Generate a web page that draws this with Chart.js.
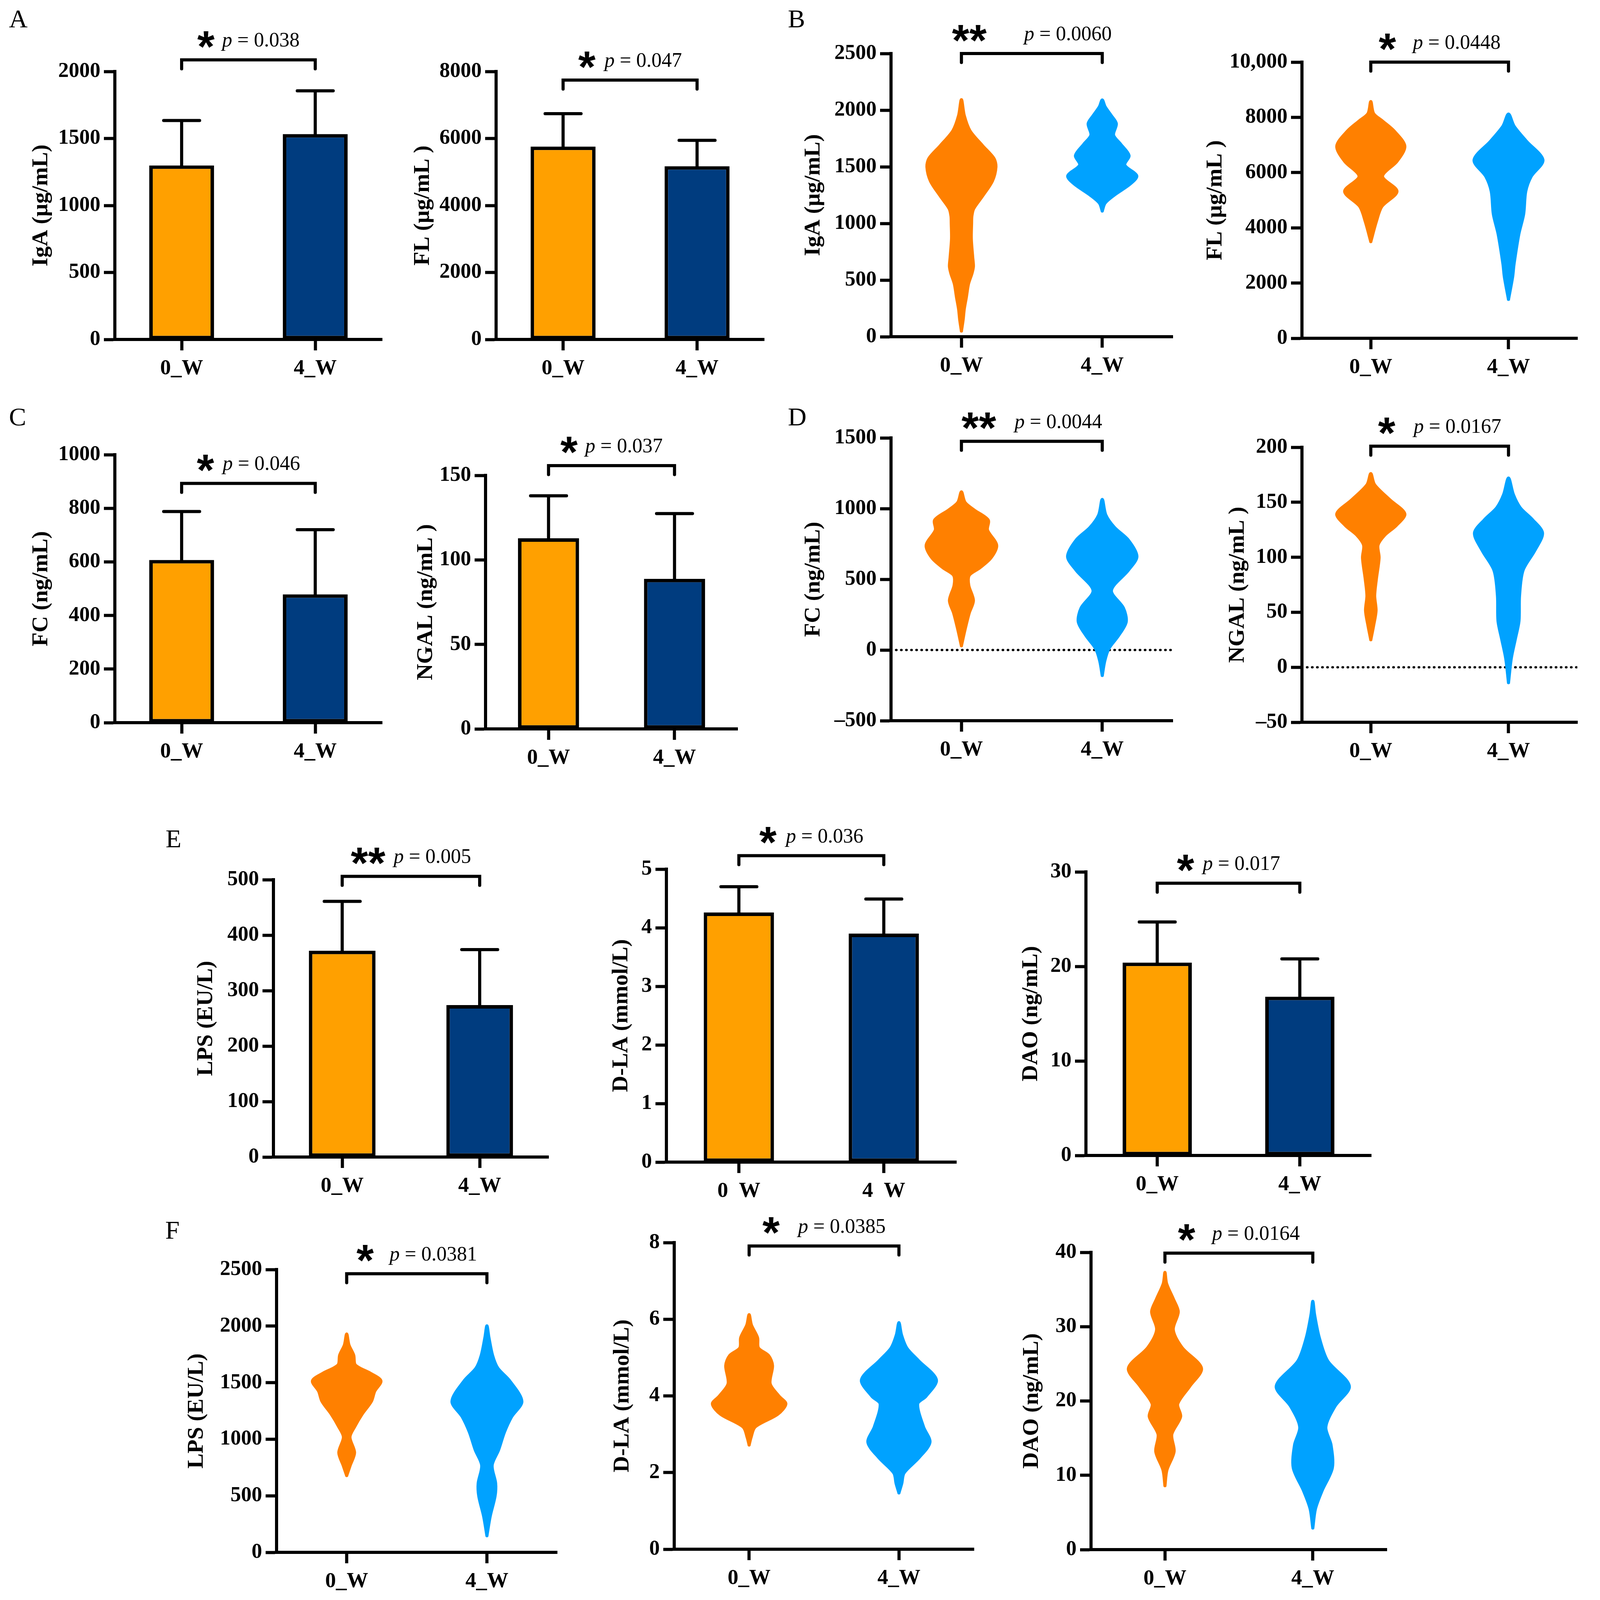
<!DOCTYPE html>
<html>
<head>
<meta charset="utf-8">
<script src="https://cdn.jsdelivr.net/npm/chart.js@4.4.1/dist/chart.umd.min.js"></script>
<style>
  html, body { margin: 0; padding: 0; background: #fff; }
  #page { position: relative; width: 4236px; height: 4268px; background: #fff; overflow: hidden; }
  #page canvas { position: absolute; }
  .tag { position: absolute; font-family: 'Liberation Serif', serif; font-size: 66px; line-height: 1; color: #000; }
</style>
</head>
<body>
<div id="page"></div>
<script>
// ---- data ----
const groups = ['0_W', '4_W'];
const groupsSpaced = ['0  W', '4  W'];

// bar panels: mean and SD (upper error only)
const igaMean = [1299, 1533];
const igaSd = [335, 323];
const flMean = [5757, 5172];
const flSd = [983, 773];
const fcMean = [607, 479];
const fcSd = [181, 241];
const ngalMean = [112.8, 88.8];
const ngalSd = [25.1, 38.6];
const lpsMean = [372, 274];
const lpsSd = [89, 100];
const dlaMean = [4.26, 3.90];
const dlaSd = [0.44, 0.59];
const daoMean = [20.4, 16.8];
const daoSd = [4.3, 4.0];

// violin outlines: levels (y) and half widths (in group spacing units)
const igaV0Y = [50, 150, 244, 350, 466, 560, 621, 700, 865, 1000, 1065, 1131, 1242, 1375, 1500, 1575, 1686, 1819, 1952, 2092];
const igaV0W = [0, 0.012, 0.02, 0.035, 0.05, 0.075, 0.085, 0.08, 0.07, 0.072, 0.074, 0.087, 0.15, 0.22, 0.245, 0.23, 0.15, 0.06, 0.02, 0];
const igaV4Y = [1110, 1180, 1250, 1350, 1420, 1515, 1600, 1700, 1780, 1880, 1950, 2030, 2090];
const igaV4W = [0, 0.02, 0.085, 0.2, 0.245, 0.16, 0.19, 0.13, 0.08, 0.1, 0.065, 0.02, 0];

const flV0Y = [3500, 4227, 4773, 5318, 5864, 6409, 6955, 7500, 7864, 8136, 8573];
const flV0W = [0, 0.04, 0.08, 0.19, 0.085, 0.19, 0.247, 0.17, 0.085, 0.02, 0];
const flV4Y = [1409, 2227, 2682, 3773, 4500, 5318, 5864, 6455, 7136, 7682, 8118];
const flV4W = [0, 0.03, 0.04, 0.075, 0.11, 0.125, 0.165, 0.25, 0.13, 0.04, 0];

const fcV0Y = [30, 155, 261, 350, 457, 528, 581, 652, 741, 848, 919, 990, 1044, 1118];
const fcV0W = [0, 0.028, 0.055, 0.085, 0.052, 0.055, 0.13, 0.21, 0.25, 0.185, 0.19, 0.09, 0.025, 0];
const fcV4Y = [-180, -76, 12, 101, 199, 297, 421, 564, 661, 777, 866, 955, 1065];
const fcV4W = [0, 0.018, 0.048, 0.115, 0.17, 0.15, 0.065, 0.185, 0.246, 0.185, 0.087, 0.025, 0];

const ngalV0Y = [25, 37.7, 51.5, 65, 80, 99.5, 111, 120, 129, 139.5, 152, 166, 176];
const ngalV0W = [0, 0.02, 0.038, 0.028, 0.04, 0.06, 0.052, 0.1, 0.185, 0.247, 0.14, 0.027, 0];
const ngalV4Y = [-14, 8, 26, 42, 65, 88, 106, 122, 134, 145, 157, 172];
const ngalV4W = [0, 0.02, 0.05, 0.076, 0.08, 0.105, 0.19, 0.247, 0.175, 0.085, 0.035, 0];

const lpsV0Y = [679, 769, 882, 1018, 1109, 1222, 1335, 1425, 1516, 1584, 1629, 1663, 1742, 1833, 1930];
const lpsV0W = [0, 0.025, 0.056, 0.023, 0.056, 0.11, 0.176, 0.2, 0.244, 0.167, 0.093, 0.058, 0.05, 0.016, 0];
const lpsV4Y = [147, 317, 498, 611, 769, 905, 1063, 1199, 1335, 1516, 1629, 1742, 1900, 2002];
const lpsV4W = [0, 0.023, 0.058, 0.062, 0.037, 0.083, 0.125, 0.176, 0.249, 0.162, 0.077, 0.04, 0.014, 0];

const dlaV0Y = [2.72, 2.92, 3.19, 3.52, 3.79, 3.99, 4.32, 4.79, 5.05, 5.25, 5.52, 5.85, 6.12];
const dlaV0W = [0, 0.013, 0.04, 0.19, 0.245, 0.2, 0.14, 0.156, 0.13, 0.062, 0.056, 0.015, 0];
const dlaV4Y = [1.47, 1.72, 1.99, 2.39, 2.79, 3.19, 3.79, 3.99, 4.42, 4.92, 5.25, 5.59, 5.91];
const dlaV4W = [0, 0.019, 0.034, 0.134, 0.207, 0.164, 0.125, 0.18, 0.25, 0.13, 0.052, 0.017, 0];

const daoV0Y = [8.6, 10.7, 13.2, 15.5, 17.9, 19.6, 22.0, 24.4, 27.2, 29.6, 32.0, 33.7, 35.8, 37.3];
const daoV0W = [0, 0.013, 0.062, 0.046, 0.106, 0.086, 0.168, 0.247, 0.115, 0.056, 0.09, 0.057, 0.011, 0];
const daoV4Y = [2.9, 5.5, 7.9, 11.0, 14.1, 16.5, 19.3, 22.0, 25.4, 28.5, 31.6, 33.4];
const daoV4W = [0, 0.018, 0.062, 0.132, 0.123, 0.088, 0.15, 0.247, 0.1, 0.044, 0.012, 0];

// axis ticks
const ticksIgaBar = [0, 500, 1000, 1500, 2000];
const ticksFlBar = [0, 2000, 4000, 6000, 8000];
const ticksIgaV = [0, 500, 1000, 1500, 2000, 2500];
const ticksFlV = [0, 2000, 4000, 6000, 8000, 10000];
const labelsFlV = ['0', '2000', '4000', '6000', '8000', '10,000'];
const ticksFcBar = [0, 200, 400, 600, 800, 1000];
const ticksNgalBar = [0, 50, 100, 150];
const ticksFcV = [-500, 0, 500, 1000, 1500];
const labelsFcV = ['\u2013500', '0', '500', '1000', '1500'];
const ticksNgalV = [-50, 0, 50, 100, 150, 200];
const labelsNgalV = ['\u201350', '0', '50', '100', '150', '200'];
const ticksLpsBar = [0, 100, 200, 300, 400, 500];
const ticksDlaBar = [0, 1, 2, 3, 4, 5];
const ticksDaoBar = [0, 10, 20, 30];
const ticksLpsV = [0, 500, 1000, 1500, 2000, 2500];
const ticksDlaV = [0, 2, 4, 6, 8];
const ticksDaoV = [0, 10, 20, 30, 40];

// significance
const pLabels = ['0.038', '0.047', '0.0060', '0.0448', '0.046', '0.037', '0.0044', '0.0167',
                 '0.005', '0.036', '0.017', '0.0381', '0.0385', '0.0164'];
const starLabels = ['*', '*', '**', '*', '*', '*', '**', '*', '**', '*', '*', '*', '*', '*'];
const bracketAt = [2087, 7742, 2500, 10000, 893, 155.8, 1476, 201, 506, 5.23, 28.8, 2463, 7.91, 39.9];

// ---- styling ----
const FONT = "'Liberation Serif', 'Times New Roman', serif";
const BAR_ORANGE = '#FFA000';
const BAR_NAVY = '#003C7F';
const VIO_ORANGE = '#FF8000';
const VIO_BLUE = '#00A2FF';
const PAD_T = 200, PAD_R = 20, X_H = 145, LW = 8;
const SX = 0.959, SY = 0.9615;   // page layout scale

const page = document.getElementById('page');

const errorBars = {
  id: 'errorBars',
  afterDatasetsDraw(chart) {
    const ds = chart.data.datasets[0];
    if (!ds.sd) return;
    const ctx = chart.ctx, y = chart.scales.y;
    const meta = chart.getDatasetMeta(0);
    ctx.save();
    ctx.strokeStyle = '#000';
    ctx.lineWidth = LW;
    ctx.lineCap = 'round';
    meta.data.forEach((bar, i) => {
      const y0 = y.getPixelForValue(ds.data[i]);
      const y1 = y.getPixelForValue(ds.data[i] + ds.sd[i]);
      ctx.beginPath();
      ctx.moveTo(bar.x, y0);
      ctx.lineTo(bar.x, y1);
      ctx.moveTo(bar.x - 46, y1);
      ctx.lineTo(bar.x + 46, y1);
      ctx.stroke();
    });
    ctx.restore();
  }
};

const bracket = {
  id: 'bracket',
  afterDraw(chart, args, o) {
    if (o.y == null) return;
    const ctx = chart.ctx;
    const x0 = chart.scales.x.getPixelForValue(0);
    const x1 = chart.scales.x.getPixelForValue(1);
    const by = chart.scales.y.getPixelForValue(o.y);
    ctx.save();
    ctx.strokeStyle = '#000';
    ctx.lineWidth = LW;
    ctx.lineCap = 'round';
    ctx.beginPath();
    ctx.moveTo(x0, by + 23);
    ctx.lineTo(x0, by);
    ctx.lineTo(x1, by);
    ctx.lineTo(x1, by + 23);
    ctx.stroke();

    const starFont = "bold 114px 'Liberation Sans', Arial, sans-serif";
    const pItal = 'italic 52px ' + FONT;
    const pReg = '52px ' + FONT;
    ctx.font = starFont;
    const sm = ctx.measureText(o.stars);
    ctx.font = pItal;
    const pw = ctx.measureText('p').width;
    ctx.font = pReg;
    const rest = ' = ' + o.p;
    const rw = ctx.measureText(rest).width;
    const total = sm.width + o.gap + pw + rw;
    let x = (x0 + x1) / 2 - total / 2;
    const base = by - 34;
    ctx.fillStyle = '#000';
    ctx.textAlign = 'left';
    ctx.textBaseline = 'alphabetic';
    ctx.font = starFont;
    const target = base - 18;
    ctx.fillText(o.stars, x, target + (sm.actualBoundingBoxAscent - sm.actualBoundingBoxDescent) / 2);
    x += sm.width + o.gap;
    ctx.font = pItal;
    ctx.fillText('p', x, base);
    x += pw;
    ctx.font = pReg;
    ctx.fillText(rest, x, base);
    ctx.restore();
  }
};

function violinPoints(center, ys, ws) {
  const right = ys.map((y, i) => ({ x: center + ws[i], y: y }));
  const left = ys.map((y, i) => ({ x: center - ws[i], y: y })).reverse();
  return right.concat(left.slice(1));
}

function yScale(p, yW) {
  return {
    type: 'linear',
    min: p.yTicks[0],
    max: p.yTicks[p.yTicks.length - 1],
    afterBuildTicks: s => { s.ticks = p.yTicks.map(v => ({ value: v })); },
    afterFit: s => { s.width = yW; },
    ticks: {
      autoSkip: false, color: '#000', padding: 9,
      font: { family: FONT, size: 54, weight: 'bold' },
      callback: (v, i) => (p.yLabels ? p.yLabels[i] : String(p.yTicks[i]))
    },
    grid: { display: true, drawOnChartArea: false, drawTicks: true, tickLength: 28, tickWidth: LW, tickColor: '#000' },
    border: { display: true, width: LW, color: '#000' },
    title: {
      display: true, text: p.title, color: '#000', padding: 0,
      font: { family: FONT, size: 58, weight: 'bold', lineHeight: 1.2 }
    }
  };
}

function xCommon(p) {
  return {
    afterFit: s => { s.height = X_H; },
    ticks: {
      autoSkip: false, color: '#000', padding: 14, maxRotation: 0,
      font: { family: FONT, size: 55, weight: 'bold' },
      callback: (v, i) => p.xLabels[i]
    },
    grid: { display: true, offset: false, drawOnChartArea: false, drawTicks: true, tickLength: 28, tickWidth: LW, tickColor: '#000' },
    border: { display: true, width: LW, color: '#000' }
  };
}

function makeChart(p, k) {
  const axisX = Math.round(p.axisX * SX), endX = Math.round(p.endX * SX);
  const topY = Math.round(p.topY * SY), botY = Math.round(p.botY * SY);
  const yW = Math.round(p.yW * SX);
  const cv = document.createElement('canvas');
  const w = yW + (endX - axisX) + PAD_R;
  const h = PAD_T + (botY - topY) + X_H;
  cv.width = w;
  cv.height = h;
  cv.style.width = w + 'px';
  cv.style.height = h + 'px';
  cv.style.left = (axisX - yW) + 'px';
  cv.style.top = (topY - PAD_T) + 'px';
  page.appendChild(cv);

  const plugins = {
    legend: { display: false },
    tooltip: { enabled: false },
    bracket: { y: bracketAt[k], stars: starLabels[k], p: pLabels[k], gap: p.gap * SX }
  };
  const common = {
    responsive: false,
    animation: false,
    devicePixelRatio: 1,
    layout: { padding: { top: PAD_T, right: PAD_R, left: 0, bottom: 0 } },
    plugins: plugins
  };

  if (p.kind === 'bar') {
    new Chart(cv, {
      type: 'bar',
      data: {
        labels: groups,
        datasets: [{
          data: p.mean,
          sd: p.sd,
          backgroundColor: [BAR_ORANGE, BAR_NAVY],
          borderColor: '#000',
          borderWidth: 9,
          borderSkipped: false,
          barPercentage: 0.97,
          categoryPercentage: 0.5
        }]
      },
      options: Object.assign({}, common, {
        scales: { x: Object.assign({ type: 'category', offset: true }, xCommon(p)), y: yScale(p, yW) }
      }),
      plugins: [errorBars, bracket]
    });
  } else {
    const datasets = [
      { data: violinPoints(0, p.v0y, p.v0w), color: VIO_ORANGE },
      { data: violinPoints(1, p.v4y, p.v4w), color: VIO_BLUE }
    ].map(d => ({
      data: d.data, showLine: true, fill: 'shape', tension: 0.3,
      backgroundColor: d.color, borderColor: d.color, borderWidth: 8,
      borderCapStyle: 'round', borderJoinStyle: 'round', pointRadius: 0
    }));
    if (p.zeroLine) {
      datasets.push({
        data: [{ x: -0.5, y: 0 }, { x: 1.5, y: 0 }], showLine: true, fill: false,
        borderColor: '#000', borderWidth: 6, borderDash: [1, 12], borderCapStyle: 'round', pointRadius: 0
      });
    }
    const xs = Object.assign({ type: 'linear', min: -0.5, max: 1.5,
      afterBuildTicks: s => { s.ticks = [{ value: 0 }, { value: 1 }]; } }, xCommon(p));
    new Chart(cv, {
      type: 'scatter',
      data: { datasets: datasets },
      options: Object.assign({}, common, { scales: { x: xs, y: yScale(p, yW) } }),
      plugins: [bracket]
    });
  }
}

const panels = [
  { kind: 'bar', title: 'IgA (\u00b5g/mL)', mean: igaMean, sd: igaSd, yTicks: ticksIgaBar, xLabels: groups,
    axisX: 307, topY: 190, botY: 904, endX: 1020, yW: 233, gap: 20 },
  { kind: 'bar', title: 'FL (\u00b5g/mL )', mean: flMean, sd: flSd, yTicks: ticksFlBar, xLabels: groups,
    axisX: 1324, topY: 190, botY: 904, endX: 2040, yW: 232, gap: 24 },
  { kind: 'violin', title: 'IgA (\u00b5g/mL)', v0y: igaV0Y, v0w: igaV0W, v4y: igaV4Y, v4w: igaV4W, yTicks: ticksIgaV, xLabels: groups,
    axisX: 2379, topY: 143, botY: 897, endX: 3130, yW: 243, gap: 100 },
  { kind: 'violin', title: 'FL (\u00b5g/mL )', v0y: flV0Y, v0w: flV0W, v4y: flV4Y, v4w: flV4W, yTicks: ticksFlV, yLabels: labelsFlV, xLabels: groups,
    axisX: 3475, topY: 165, botY: 901, endX: 4211, yW: 267, gap: 45 },
  { kind: 'bar', title: 'FC (ng/mL)', mean: fcMean, sd: fcSd, yTicks: ticksFcBar, xLabels: groups,
    axisX: 307, topY: 1211, botY: 1924, endX: 1020, yW: 233, gap: 23 },
  { kind: 'bar', title: 'NGAL (ng/mL )', mean: ngalMean, sd: ngalSd, yTicks: ticksNgalBar, xLabels: groups,
    axisX: 1296, topY: 1266, botY: 1941, endX: 1969, yW: 195, gap: 20 },
  { kind: 'violin', title: 'FC (ng/mL)', v0y: fcV0Y, v0w: fcV0W, v4y: fcV4Y, v4w: fcV4W, yTicks: ticksFcV, yLabels: labelsFcV, xLabels: groups,
    axisX: 2379, topY: 1166, botY: 1919, endX: 3130, yW: 243, gap: 49, zeroLine: true },
  { kind: 'violin', title: 'NGAL (ng/mL )', v0y: ngalV0Y, v0w: ngalV0W, v4y: ngalV4Y, v4w: ngalV4W, yTicks: ticksNgalV, yLabels: labelsNgalV, xLabels: groups,
    axisX: 3475, topY: 1191, botY: 1923, endX: 4211, yW: 207, gap: 49, zeroLine: true },
  { kind: 'bar', title: 'LPS (EU/L)', mean: lpsMean, sd: lpsSd, yTicks: ticksLpsBar, xLabels: groups,
    axisX: 730, topY: 2342, botY: 3081, endX: 1464, yW: 216, gap: 22 },
  { kind: 'bar', title: 'D-LA (mmol/L)', mean: dlaMean, sd: dlaSd, yTicks: ticksDlaBar, xLabels: groupsSpaced,
    axisX: 1779, topY: 2314, botY: 3094, endX: 2553, yW: 156, gap: 25 },
  { kind: 'bar', title: 'DAO (ng/mL)', mean: daoMean, sd: daoSd, yTicks: ticksDaoBar, xLabels: groups,
    axisX: 2899, topY: 2321, botY: 3076, endX: 3660, yW: 183, gap: 23 },
  { kind: 'violin', title: 'LPS (EU/L)', v0y: lpsV0Y, v0w: lpsV0W, v4y: lpsV4Y, v4w: lpsV4W, yTicks: ticksLpsV, xLabels: groups,
    axisX: 738, topY: 3380, botY: 4133, endX: 1487, yW: 249, gap: 42 },
  { kind: 'violin', title: 'D-LA (mmol/L)', v0y: dlaV0Y, v0w: dlaV0W, v4y: dlaV4Y, v4w: dlaV4W, yTicks: ticksDlaV, xLabels: groups,
    axisX: 1800, topY: 3308, botY: 4125, endX: 2600, yW: 174, gap: 49 },
  { kind: 'violin', title: 'DAO (ng/mL)', v0y: daoV0Y, v0w: daoV0W, v4y: daoV4Y, v4w: daoV4W, yTicks: ticksDaoV, xLabels: groups,
    axisX: 2912, topY: 3334, botY: 4126, endX: 3702, yW: 194, gap: 45 }
];

panels.forEach(makeChart);

// panel letters
[['A', 24, 77], ['B', 2103, 77], ['C', 24, 1137], ['D', 2103, 1137], ['E', 442, 2260], ['F', 441, 3302]]
  .forEach(([t, x, base]) => {
    const d = document.createElement('div');
    d.className = 'tag';
    d.textContent = t;
    d.style.left = Math.round(x * SX) + 'px';
    d.style.top = Math.round(base * SY - 59) + 'px';
    page.appendChild(d);
  });
</script>
</body>
</html>
